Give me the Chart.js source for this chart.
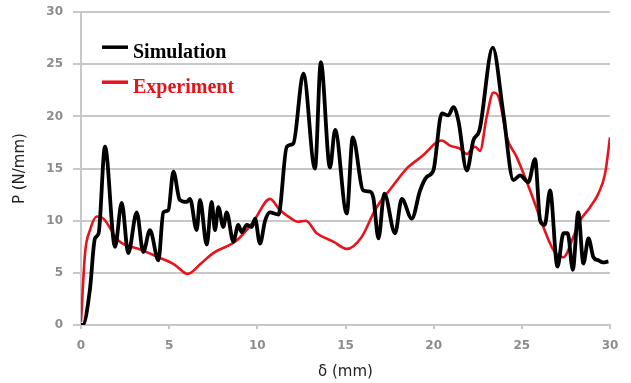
<!DOCTYPE html>
<html>
<head>
<meta charset="utf-8">
<script src="https://cdn.jsdelivr.net/npm/chart.js@4"></script>
<style>
  html, body { margin: 0; padding: 0; background: #fff; overflow: hidden; }
  #wrap { width: 631px; height: 388px; margin-top: -5px; }
</style>
</head>
<body>
<div id="wrap"><canvas id="chart"></canvas></div>
<script>
// displacement (mm) and load (N/mm)
const simX = [0, 0.1, 0.5, 0.79, 1.0, 1.36, 1.93, 2.31, 2.68, 3.16, 3.53, 3.91, 4.39, 4.67, 4.95, 5.24, 5.6, 6.0, 6.18, 6.56, 6.75, 7.13, 7.41, 7.6, 7.79, 8.07, 8.26, 8.64, 8.92, 9.11, 9.4, 9.68, 9.87, 10.15, 10.44, 10.72, 11.2, 11.67, 12.04, 12.61, 13.27, 13.6, 14.12, 14.41, 15.07, 15.41, 16.01, 16.39, 16.58, 16.87, 17.2, 17.81, 18.19, 18.76, 19.23, 19.61, 19.98, 20.46, 20.83, 21.12, 21.4, 21.88, 22.25, 22.6, 23.35, 23.95, 24.52, 24.9, 25.37, 25.75, 26.04, 26.3, 26.6, 27.02, 27.36, 27.6, 27.89, 28.2, 28.49, 28.78, 29.06, 29.34, 29.6, 29.91];
const simY = [0, 0, 3.3, 8.3, 8.8, 17.1, 7.5, 11.7, 6.9, 10.8, 7.0, 9.1, 6.2, 10.8, 11.0, 14.7, 12.0, 11.8, 12.1, 9.1, 12.0, 7.7, 11.8, 9.1, 11.3, 9.4, 10.8, 8.0, 9.6, 8.9, 9.6, 9.4, 10.2, 7.8, 10.0, 10.8, 10.6, 17.1, 17.4, 24.1, 15.0, 25.2, 15.1, 18.7, 10.7, 18.0, 12.9, 12.8, 12.2, 8.3, 12.6, 8.8, 12.1, 10.2, 12.9, 14.2, 14.8, 20.3, 20.1, 20.9, 19.6, 14.8, 17.7, 18.7, 26.6, 20.3, 13.9, 14.35, 13.7, 15.9, 10.0, 9.6, 12.9, 5.6, 8.8, 8.8, 5.3, 10.8, 5.9, 8.3, 6.5, 6.2, 6.0, 6.1];

const expX = [0, 0.23, 0.51, 0.89, 1.27, 2.12, 3.44, 4.39, 5.3, 6.05, 6.8, 7.5, 8.83, 9.77, 10.72, 11.29, 11.85, 12.3, 12.75, 13.37, 14.31, 15.07, 15.92, 16.58, 16.96, 17.53, 18.47, 19.42, 20.08, 20.46, 20.93, 21.5, 21.88, 22.35, 22.63, 23.0, 23.39, 23.7, 24.15, 24.71, 25.47, 26.22, 26.79, 27.36, 27.92, 28.3, 28.87, 29.34, 29.72, 30];
const expY = [0.3, 6.9, 9.1, 10.4, 10.2, 8.1, 7.2, 6.5, 5.8, 4.9, 5.9, 6.9, 8.1, 9.9, 12.1, 11.0, 10.3, 9.9, 10.0, 8.8, 8.0, 7.3, 8.45, 10.7, 11.8, 13.0, 15.0, 16.3, 17.4, 17.7, 17.2, 16.9, 16.4, 17.1, 16.7, 19.9, 22.3, 21.8, 18.0, 16.1, 12.9, 9.4, 7.2, 6.5, 8.45, 10.0, 11.3, 12.6, 14.5, 18.0];

const seriesNames = ['Simulation', 'Experiment'];
const seriesColors = ['#000000', '#e8141b'];

const toPoints = (xs, ys) => xs.map((x, i) => ({ x: x, y: ys[i] }));

// legend drawn inside the plot, top left
const insideLegend = {
    id: 'insideLegend',
    afterDatasetsDraw(chart) {
        const ctx = chart.ctx;
        const area = chart.chartArea;
        ctx.save();
        ctx.font = 'bold 20px "Liberation Serif", "Times New Roman", serif';
        ctx.textBaseline = 'middle';
        chart.data.datasets.forEach((ds, i) => {
            const y = area.top + 38 + i * 35;
            ctx.strokeStyle = ds.borderColor;
            ctx.lineWidth = 3.5;
            ctx.beginPath();
            ctx.moveTo(area.left + 21, y - 3);
            ctx.lineTo(area.left + 47, y - 3);
            ctx.stroke();
            ctx.fillStyle = ds.borderColor;
            ctx.fillText(ds.label, area.left + 52, y + 3);
        });
        ctx.restore();
    }
};

const tickFont = { family: '"DejaVu Sans", sans-serif', size: 12, weight: 'bold' };

new Chart(document.getElementById('chart'), {
    type: 'line',
    data: {
        datasets: [{
            label: seriesNames[0],
            data: toPoints(simX, simY),
            borderColor: seriesColors[0],
            borderWidth: 3.8,
            pointRadius: 0,
            cubicInterpolationMode: 'monotone',
            fill: false
        }, {
            label: seriesNames[1],
            data: toPoints(expX, expY),
            borderColor: seriesColors[1],
            borderWidth: 2.6,
            pointRadius: 0,
            cubicInterpolationMode: 'monotone',
            fill: false
        }]
    },
    options: {
        responsive: true,
        maintainAspectRatio: false,
        animation: false,
        layout: { padding: { top: 6, right: 21, left: 0, bottom: 0 } },
        plugins: {
            legend: { display: false },
            tooltip: { enabled: false }
        },
        scales: {
            x: {
                type: 'linear',
                min: 0,
                max: 30,
                afterFit: (s) => { s.height = 58; },
                border: { color: '#c8c8c8', width: 2 },
                grid: { drawOnChartArea: false, drawTicks: true, tickLength: 4, color: '#c8c8c8', lineWidth: 2 },
                ticks: { stepSize: 5, color: '#8c8c8c', font: tickFont, padding: 10, maxRotation: 0 },
                title: {
                    display: true,
                    text: 'δ (mm)',
                    color: '#222',
                    font: { family: '"DejaVu Sans", sans-serif', size: 15 },
                    padding: { top: 0, bottom: 2 }
                }
            },
            y: {
                min: 0,
                max: 30,
                afterFit: (s) => { s.width = 81; },
                border: { color: '#c8c8c8', width: 2 },
                grid: { color: '#c8c8c8', lineWidth: 2, tickLength: 8 },
                ticks: { stepSize: 5, color: '#8c8c8c', font: tickFont, padding: 10 },
                title: {
                    display: true,
                    text: 'P (N/mm)',
                    color: '#222',
                    font: { family: '"DejaVu Sans", sans-serif', size: 15 },
                    padding: { top: 11, bottom: 0 }
                }
            }
        }
    },
    plugins: [insideLegend]
});
</script>
</body>
</html>
